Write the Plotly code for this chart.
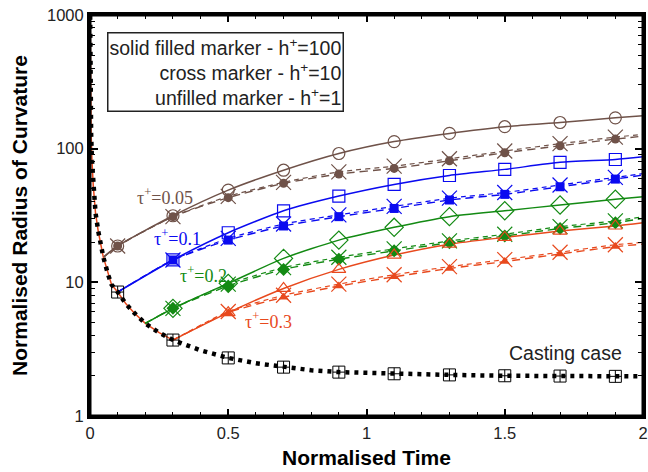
import math
import plotly.graph_objects as go

# ---------------- data ----------------
casting_t = [0.0003, 0.001, 0.002, 0.004, 0.007, 0.012, 0.02, 0.03, 0.048, 0.065, 0.078, 0.1,
             0.13, 0.16, 0.2, 0.25, 0.3, 0.4, 0.5, 0.6, 0.7, 0.8, 0.9, 1.1, 1.3, 1.5, 1.7, 1.9, 2.0]
casting_r = [1150, 420, 235, 131, 82, 52, 33, 24, 15.5, 11.5, 9.6, 8.46,
             6.9, 5.9, 4.93, 4.2, 3.7, 3.1, 2.72, 2.48, 2.32, 2.2, 2.13, 2.07, 2.03, 2.0, 1.99, 1.98, 1.98]
casting_marker_t = [0.1, 0.3, 0.5, 0.7, 0.9, 1.1, 1.3, 1.5, 1.7, 1.9]

t_005 = [0.05, 0.1, 0.3, 0.5, 0.7, 0.9, 1.1, 1.3, 1.5, 1.7, 1.9, 2.0]
r_005_h1 = [15.5, 18.7, 31.5, 49, 69, 92, 113, 130, 146, 157, 170, 176]
r_005_h10 = [15.5, 18.7, 31, 44, 56, 67, 74, 84, 96, 109, 122, 128]
r_005_h100 = [15.5, 18.7, 31, 43, 55, 64.6, 71.2, 81.2, 93.2, 105, 118, 124]

t_01 = [0.1, 0.3, 0.5, 0.7, 0.9, 1.1, 1.3, 1.5, 1.7, 1.9, 2.0]
r_01_h1 = [8.46, 14.7, 23.5, 34.3, 44.2, 54, 63, 70, 79, 83, 87]
r_01_h10 = [8.46, 14.7, 21.3, 27.3, 32, 37, 42.6, 47, 53.5, 61, 65]
r_01_h100 = [8.46, 14.7, 20.7, 26.4, 31, 35.7, 41.3, 45.5, 51.9, 59.2, 63.5]

t_02 = [0.2, 0.3, 0.5, 0.7, 0.9, 1.1, 1.3, 1.5, 1.7, 1.9, 2.0]
r_02_h1 = [4.93, 6.39, 9.83, 15.1, 20.7, 25.8, 31, 34.3, 37.9, 41.8, 43.7]
r_02_h10 = [4.93, 6.39, 9.7, 12.9, 15.4, 17.8, 20.4, 22.9, 26.1, 28.8, 31]
r_02_h100 = [4.93, 6.39, 9.4, 12.5, 14.9, 17.2, 19.8, 22.2, 25.3, 27.9, 30.1]

t_03 = [0.3, 0.5, 0.7, 0.9, 1.1, 1.3, 1.5, 1.7, 1.9, 2.0]
r_03_h1 = [3.7, 5.93, 9.0, 12.5, 16.0, 19.3, 21.7, 24.2, 26.4, 27.9]
r_03_h10 = [3.7, 6.05, 8.0, 9.7, 11.4, 13.1, 14.8, 16.8, 19.1, 19.9]
r_03_h100 = [3.7, 5.93, 7.73, 9.38, 11.0, 12.7, 14.3, 16.3, 18.5, 19.3]

tau_labels = ["τ<sup>+</sup>=0.05", "τ<sup>+</sup>=0.1", "τ<sup>+</sup>=0.2", "τ<sup>+</sup>=0.3"]
legend_lines = ["solid filled marker - h<sup>+</sup>=100",
                "cross marker - h<sup>+</sup>=10",
                "unfilled marker - h<sup>+</sup>=1"]
x_tickvals = [0, 0.5, 1, 1.5, 2]
x_ticktext = ["0", "0.5", "1", "1.5", "2"]
y_tickvals = [1, 10, 100, 1000]
y_ticktext = ["1", "10", "100", "1000"]

# ---------------- styles ----------------
BROWN = "#6f5249"
BLUE = "#0a0af0"
GREEN = "#138a13"
RED = "#e8491d"

series = [
    (t_005, r_005_h1, r_005_h10, r_005_h100, BROWN, "circle"),
    (t_01, r_01_h1, r_01_h10, r_01_h100, BLUE, "square"),
    (t_02, r_02_h1, r_02_h10, r_02_h100, GREEN, "diamond"),
    (t_03, r_03_h1, r_03_h10, r_03_h100, RED, "triangle-up"),
]

fig = go.Figure()

# red underlay following the casting curve up to tau=0.3
under_t = [t for t in casting_t if t <= 0.3]
under_r = [r for t, r in zip(casting_t, casting_r) if t <= 0.3]
fig.add_trace(go.Scatter(x=under_t, y=under_r, mode="lines",
                         line=dict(color=RED, width=1.5), hoverinfo="skip"))

# series lines
for t, h1, h10, h100, col, sym in series:
    fig.add_trace(go.Scatter(x=t, y=h100, mode="lines",
                             line=dict(color=col, width=1.4, dash="8px,5px", shape="spline", smoothing=0.6)))
    fig.add_trace(go.Scatter(x=t, y=h10, mode="lines",
                             line=dict(color=col, width=1.2, dash="5px,4px", shape="spline", smoothing=0.6)))
    fig.add_trace(go.Scatter(x=t, y=h1, mode="lines",
                             line=dict(color=col, width=1.5, shape="spline", smoothing=0.6)))

# casting case dotted line and markers
fig.add_trace(go.Scatter(x=casting_t, y=casting_r, mode="lines",
                         line=dict(color="black", width=4.5, dash="4px,5px")))
cm_r = [r for t, r in zip(casting_t, casting_r) if t in casting_marker_t]
cm_t = [t for t in casting_t if t in casting_marker_t]
fig.add_trace(go.Scatter(x=cm_t, y=cm_r, mode="markers",
                         marker=dict(symbol="square-cross-open", size=12, color="black",
                                     line=dict(width=1, color="black"))))

# series markers
for t, h1, h10, h100, col, sym in series:
    fig.add_trace(go.Scatter(x=t[1:-1], y=h1[1:-1], mode="markers",
                             marker=dict(symbol=sym + "-open", size=12 if sym != "diamond" else 14,
                                         color=col, line=dict(width=1.2, color=col))))
    fig.add_trace(go.Scatter(x=t[1:-1], y=h10[1:-1], mode="markers",
                             marker=dict(symbol="x-thin-open", size=15, color=col,
                                         line=dict(width=1.2, color=col))))
    fig.add_trace(go.Scatter(x=t[1:-1], y=h100[1:-1], mode="markers",
                             marker=dict(symbol=sym, size=9 if sym != "diamond" else 10,
                                         color=col, line=dict(width=0))))

# tau labels
tau_pos = [(0.27, 43.5), (0.315, 21.8), (0.41, 11.5), (0.645, 5.14)]
tau_cols = [BROWN, BLUE, GREEN, RED]
for lab, (x, y), col in zip(tau_labels, tau_pos, tau_cols):
    fig.add_annotation(x=x, y=math.log10(y), xref="x", yref="y", text=lab, showarrow=False,
                       font=dict(family="Liberation Serif", size=18, color=col))

fig.add_annotation(x=1.72, y=math.log10(2.96), xref="x", yref="y", text="Casting case",
                   showarrow=False, font=dict(family="Liberation Sans", size=19.5, color="#222"))

fig.add_annotation(x=0.03, y=0.958, xref="paper", yref="paper", xanchor="left", yanchor="top",
                   text="<br>".join(legend_lines), align="right", showarrow=False,
                   bordercolor="#222", borderwidth=1.5, borderpad=1, bgcolor="white",
                   font=dict(family="Liberation Sans", size=19.5, color="#222"))

# frame
fig.add_shape(type="rect", xref="paper", yref="paper", x0=0, y0=0, x1=1, y1=1,
              line=dict(color="black", width=3), layer="above")

minor_y = [m * d for d in (1, 10, 100) for m in range(2, 10)]

fig.update_layout(
    width=648, height=472,
    margin=dict(l=90, r=5, t=15, b=56),
    plot_bgcolor="white", paper_bgcolor="white",
    showlegend=False,
    font=dict(family="Liberation Sans", size=16.5, color="#222"),
    xaxis=dict(range=[0, 2], tickvals=x_tickvals, ticktext=x_ticktext,
               ticks="inside", ticklen=7, tickwidth=1.5, tickcolor="black",
               showline=True, linewidth=3, linecolor="black", mirror="allticks",
               showgrid=False, zeroline=False, automargin=False,
               minor=dict(ticks="inside", ticklen=4, tickwidth=1.2, tickcolor="black", dtick=0.1, showgrid=False),
               title=dict(text="<b>Normalised Time</b>", font=dict(size=21, color="black"), standoff=10)),
    yaxis=dict(type="log", range=[0, 3], tickvals=y_tickvals, ticktext=y_ticktext,
               ticks="inside", ticklen=8, tickwidth=1.5, tickcolor="black",
               showline=True, linewidth=3, linecolor="black", mirror="allticks",
               showgrid=False, zeroline=False, automargin=False,
               minor=dict(ticks="inside", ticklen=5, tickwidth=1.2, tickcolor="black", tickvals=minor_y, showgrid=False),
               title=dict(text="<b>Normalised Radius of Curvature</b>", font=dict(size=21, color="black"), standoff=14)),
)

fig.write_html("out.html", config={"displayModeBar": False},
               post_script="document.body.style.margin='0';")
